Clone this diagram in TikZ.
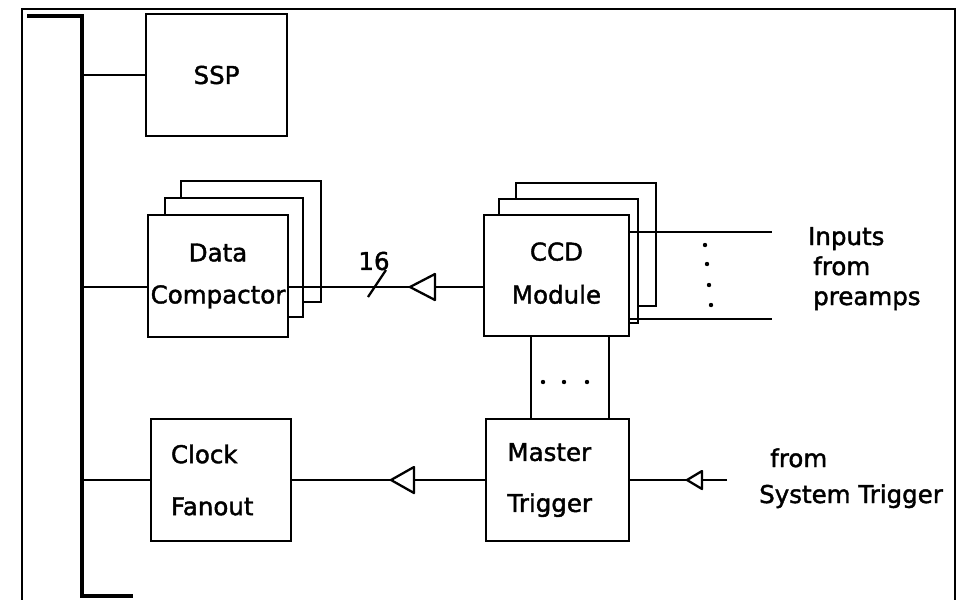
\documentclass[tikz,border=0pt]{standalone}
\usepackage{fontspec}
\setmainfont{DejaVu Sans}[FakeBold=1.6]
\usetikzlibrary{calc}

\begin{document}
\begin{tikzpicture}[x=1pt,y=-1pt,
  box/.style={draw,line width=2.7pt,fill=white,inner sep=0pt,minimum width=140pt,minimum height=122pt},
  wire/.style={line width=2.3pt},
  bus/.style={line width=4.2pt},
  buf/.style={line width=2.3pt,fill=white,line join=round},
  txt/.style={inner sep=0pt,anchor=base west,font=\fontsize{24.5}{30}\selectfont}]
	\useasboundingbox (0,0) rectangle (959,600);
	% frame and bus
	\draw[line width=2.2pt] (22,600) -- (22,9) -- (955,9) -- (955,600);
	\coordinate (busx) at (82,0);
	\draw[bus] (27,16) -| (82,596) -- (133,596);
	% boxes, the stacked ones back to front
	\node[box,minimum width=141pt] (ssp) at (216.5,75) {\fontsize{24.5}{30}\selectfont SSP};
	\node[box,minimum height=121pt] (dc3) at (251,241.5) {};
	\node[box,minimum width=138pt,minimum height=119pt] (dc2) at (234,257.5) {};
	\node[box,align=center,font=\fontsize{24.5}{42}\selectfont] (dc) at (218,276) {Data\\Compactor};
	\node[box,minimum height=123pt] (ccd3) at (586,244.5) {};
	\node[box,minimum width=139pt,minimum height=124pt] (ccd2) at (568.5,261) {};
	\node[box,minimum width=145pt,minimum height=121pt,align=center,font=\fontsize{24.5}{43}\selectfont] (ccd) at (556.5,275.5) {CCD\\Module\vphantom{p}};
	\node[box,text width=100pt,align=left,font=\fontsize{24.5}{52}\selectfont] (cf) at (221,480) {Clock\\Fanout};
	\node[box,minimum width=143pt,text width=100pt,align=left,font=\fontsize{24.5}{51}\selectfont] (mt) at (557.5,480) {Master\\Trigger};
	% connections to the bus
	\coordinate (y16) at (0,287);
	\draw[wire] (busx |- ssp.west) -- (ssp.west);
	\draw[wire] (busx |- y16) -- (dc.west |- y16);
	\draw[wire] (busx |- cf.west) -- (cf.west);
	% data path
	\draw[wire] (dc.east |- y16) -- (ccd.west |- y16);
	\draw[wire] (368,297) -- (386,270);
	\node[inner sep=0pt,font=\fontsize{24.5}{30}\selectfont] (n16) at (374,261) {16};
	\coordinate (t1) at (410,287);
	\draw[buf] (t1) -- ++(25,-13) -- ++(0,26) -- cycle;
	% inputs
	\coordinate (in1) at (772,232);
	\coordinate (in2) at (772,319);
	\draw[wire] (ccd.east |- in1) -- (in1);
	\draw[wire] (ccd.east |- in2) -- (in2);
	\foreach \x/\y in {705/245,707/264,709/285,711/305}
		\fill (\x,\y) circle (2.2pt);
	\node[txt] (inputs) at (808,245) {Inputs};
	\node[txt] (from1) at (813,275) {from};
	\node[txt] (preamps) at (813,305) {preamps};
	% CCD to master trigger
	\coordinate (v1) at (531,0);
	\coordinate (v2) at (609,0);
	\draw[wire] (ccd.south -| v1) -- (mt.north -| v1);
	\draw[wire] (ccd.south -| v2) -- (mt.north -| v2);
	\foreach \x in {543,564,587}
		\fill (\x,382) circle (2.2pt);
	% clock path
	\draw[wire] (mt.west) -- (cf.east);
	\coordinate (t2) at (391,480);
	\draw[buf] (t2) -- ++(23,-13) -- ++(0,26) -- cycle;
	\coordinate (st) at (727,480);
	\draw[wire] (st) -- (mt.east);
	\coordinate (t3) at (687,480);
	\draw[buf] (t3) -- ++(15,-9) -- ++(0,18) -- cycle;
	\node[txt] (from2) at (770,467) {from};
	\node[txt] (systrig) at (759,503) {System Trigger};
\end{tikzpicture}
\end{document}
